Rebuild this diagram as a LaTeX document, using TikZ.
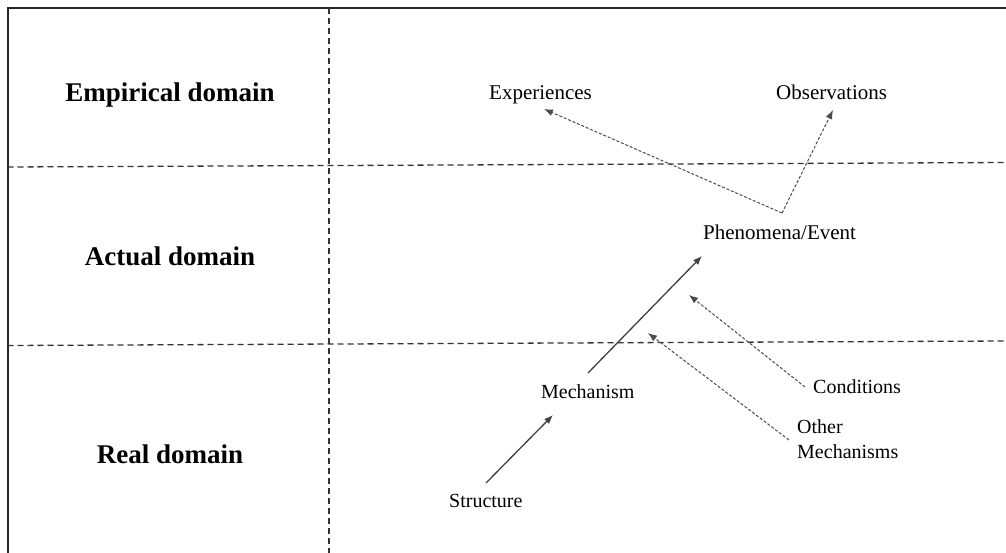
\documentclass[tikz,border=0pt]{standalone}
\usepackage{fontspec}
\setmainfont{Liberation Serif}
\usetikzlibrary{arrows.meta}
\begin{document}
\begin{tikzpicture}[x=1pt,y=-1pt,
  frame/.style={line width=2pt, draw=black!85},
  divider/.style={line width=1.3pt, draw=black!80, dash pattern=on 6pt off 4pt},
  domainlabel/.style={font=\fontsize{27}{30}\selectfont\bfseries, anchor=base, inner sep=0pt},
  item/.style={font=\fontsize{21}{24}\selectfont, anchor=base west, inner sep=0pt},
  lowitem/.style={font=\fontsize{20}{25}\selectfont, anchor=base west, inner sep=0pt, align=left},
  cause/.style={draw=black!75, line width=1.3pt, -{Latex[length=9pt,width=7pt]}},
  effect/.style={draw=black!70, line width=1pt, dash pattern=on 3pt off 1.8pt, -{Latex[length=9pt,width=7pt]}},
]
\useasboundingbox (0,0) rectangle (1006,553);

% outer frame (top and left edges)
\draw[frame] (1006,8) -- (7.5,8) -- (7.5,553);

% column and row dividers
\draw[divider] (329,8) -- (329,553);
\draw[divider] (7.5,167) -- (1006,162.5);
\draw[divider] (7.5,345.5) -- (1006,341);

% domain names
\node[domainlabel] (empirical) at (170,101.5) {Empirical domain};
\node[domainlabel] (actual)    at (170,265.5) {Actual domain};
\node[domainlabel] (real)      at (170,463.5) {Real domain};

% items
\node[item] (exp)  at (489,100)  {Experiences};
\node[item] (obs)  at (776,100)  {Observations};
\node[item] (phen) at (703,240) {Phenomena/Event};
\node[lowitem] (mech)   at (541,398) {Mechanism};
\node[lowitem] (cond)   at (813,393) {Conditions};
% two-line node: its base anchor sits on the last line
\node[lowitem] (other)  at (797,458) {Other\\Mechanisms};
\node[lowitem] (struct) at (449,507) {Structure};

% connector end points
\coordinate (phen-top)    at (782,213);
\coordinate (exp-in)      at (544,109);
\coordinate (obs-in)      at (833,110);
\coordinate (mech-out)    at (588,373);
\coordinate (phen-in)     at (702,256);
\coordinate (struct-out)  at (486,483);
\coordinate (mech-in)     at (553,415);
\coordinate (cond-out)    at (805,387);
\coordinate (phen-in2)    at (689,295);
\coordinate (other-out)   at (789,440);
\coordinate (phen-in3)    at (648,333);

% connectors
\draw[effect] (phen-top) -- (exp-in);
\draw[effect] (phen-top) -- (obs-in);
\draw[cause] (mech-out) -- (phen-in);
\draw[cause] (struct-out) -- (mech-in);
\draw[effect] (cond-out) -- (phen-in2);
\draw[effect] (other-out) -- (phen-in3);
\end{tikzpicture}
\end{document}
